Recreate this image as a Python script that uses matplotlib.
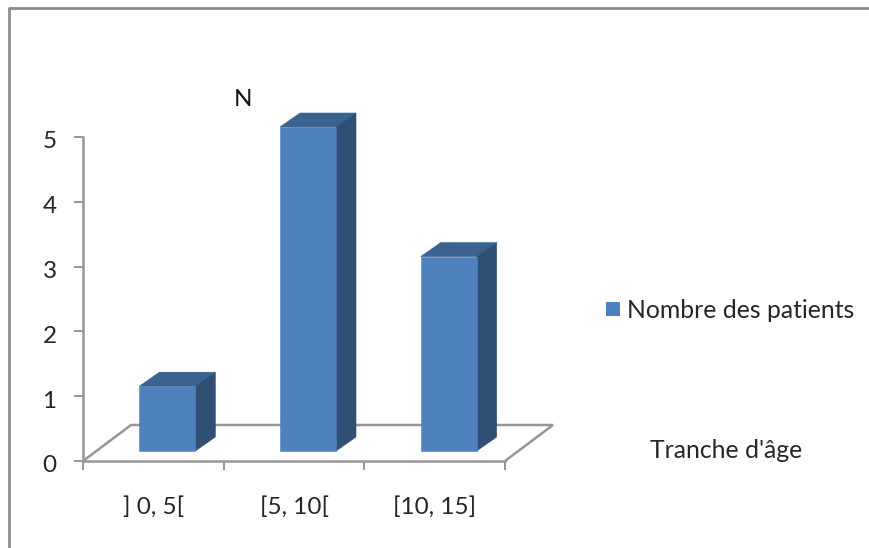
import matplotlib
matplotlib.use("Agg")
import matplotlib.pyplot as plt
from matplotlib.patches import Polygon
from matplotlib.transforms import ScaledTranslation

categories = ["] 0, 5[", "[5, 10[", "[10, 15]"]
patients = [1, 5, 3]
y_ticks = [0, 1, 2, 3, 4, 5]

FRONT = "#4f81bd"
TOP = "#3b638f"
SIDE = "#304f75"
GREY = "#969696"
FRAME = "#8c8c8c"
TEXT = "#262626"

plt.rcParams["font.family"] = ["Lato", "DejaVu Sans"]

W, H = 869, 548
fig = plt.figure(figsize=(W / 100, H / 100), dpi=100)

# axes box runs from the 0 tick to the 5 tick, one unit of x per category
x0, x1, y_top, y_bot = 83, 505, 137, 461
ax = fig.add_axes([x0 / W, 1 - y_bot / H, (x1 - x0) / W, (y_bot - y_top) / H])
ax.set_xlim(0, len(categories))
ax.set_ylim(0, 5)
ax.patch.set_visible(False)

ux = (x1 - x0) / len(categories)
uy = (y_bot - y_top) / 5

# floor of the 3d box
fx, fy = 48 / ux, 36 / uy
floor = [(0, 0), (fx, fy), (3 + fx, fy), (3, 0)]
ax.add_patch(Polygon(floor, closed=False, fill=False, edgecolor=GREY, lw=1.8, clip_on=False, zorder=1))

# bars: front, top and side faces, pushed back onto the floor
bar_w = 56 / ux
base = 10 / uy
shift = 14 / ux
dx, dy = 20 / ux, 14 / uy
for i, v in enumerate(patients):
    left = i + 0.5 - bar_w / 2 + shift
    right = left + bar_w
    top = base + v
    ax.add_patch(Polygon([(left, top), (left + dx, top + dy), (right + dx, top + dy), (right, top)],
                         facecolor=TOP, edgecolor=TOP, lw=0.4, clip_on=False, zorder=3))
    ax.add_patch(Polygon([(right, base), (right, top), (right + dx, top + dy), (right + dx, base + dy)],
                         facecolor=SIDE, edgecolor=SIDE, lw=0.4, clip_on=False, zorder=3))
    ax.add_patch(Polygon([(left, base), (left, top), (right, top), (right, base)],
                         facecolor=FRONT, edgecolor=FRONT, lw=0.4, clip_on=False, zorder=4))

for s in ["top", "right"]:
    ax.spines[s].set_visible(False)
for s in ["left", "bottom"]:
    ax.spines[s].set_color(GREY)
    ax.spines[s].set_linewidth(1.8)

ax.set_yticks(y_ticks)
ax.set_xticks(range(len(categories) + 1))
ax.set_xticklabels([])
ax.tick_params(axis="both", color=GREY, width=1.4, length=6.5, labelsize=17.5, labelcolor=TEXT)
ax.tick_params(axis="y", pad=12.5)

# y labels sit a little below their ticks
nudge = ScaledTranslation(0, -3 / 100, fig.dpi_scale_trans)
for lab in ax.get_yticklabels():
    lab.set_transform(lab.get_transform() + nudge)

for i, c in enumerate(categories):
    ax.annotate(c, (i + 0.5, 0), xytext=(0, -46), textcoords="offset pixels", ha="center", va="center",
                fontsize=17.5, color=TEXT, annotation_clip=False)

# frame around the chart area, left and top only
fig.add_artist(plt.Line2D([8.5 / W, 8.5 / W, 1], [0, 1 - 8 / H, 1 - 8 / H], color=FRAME, lw=2))

fig.text(243 / W, 1 - 100 / H, "N", ha="center", va="center", fontsize=17.5, color="#111111")
fig.text(726 / W, 1 - 450 / H, "Tranche d'âge", ha="center", va="center", fontsize=17.8, color=TEXT)

# legend swatch and label
fig.patches.append(plt.Rectangle((606 / W, 1 - 316 / H), 14 / W, 14 / H, transform=fig.transFigure, facecolor=FRONT, edgecolor="none"))
fig.text(627 / W, 1 - 310 / H, "Nombre des patients", ha="left", va="center", fontsize=17.8, color=TEXT)

fig.savefig("out.png", dpi=100, facecolor="white")
